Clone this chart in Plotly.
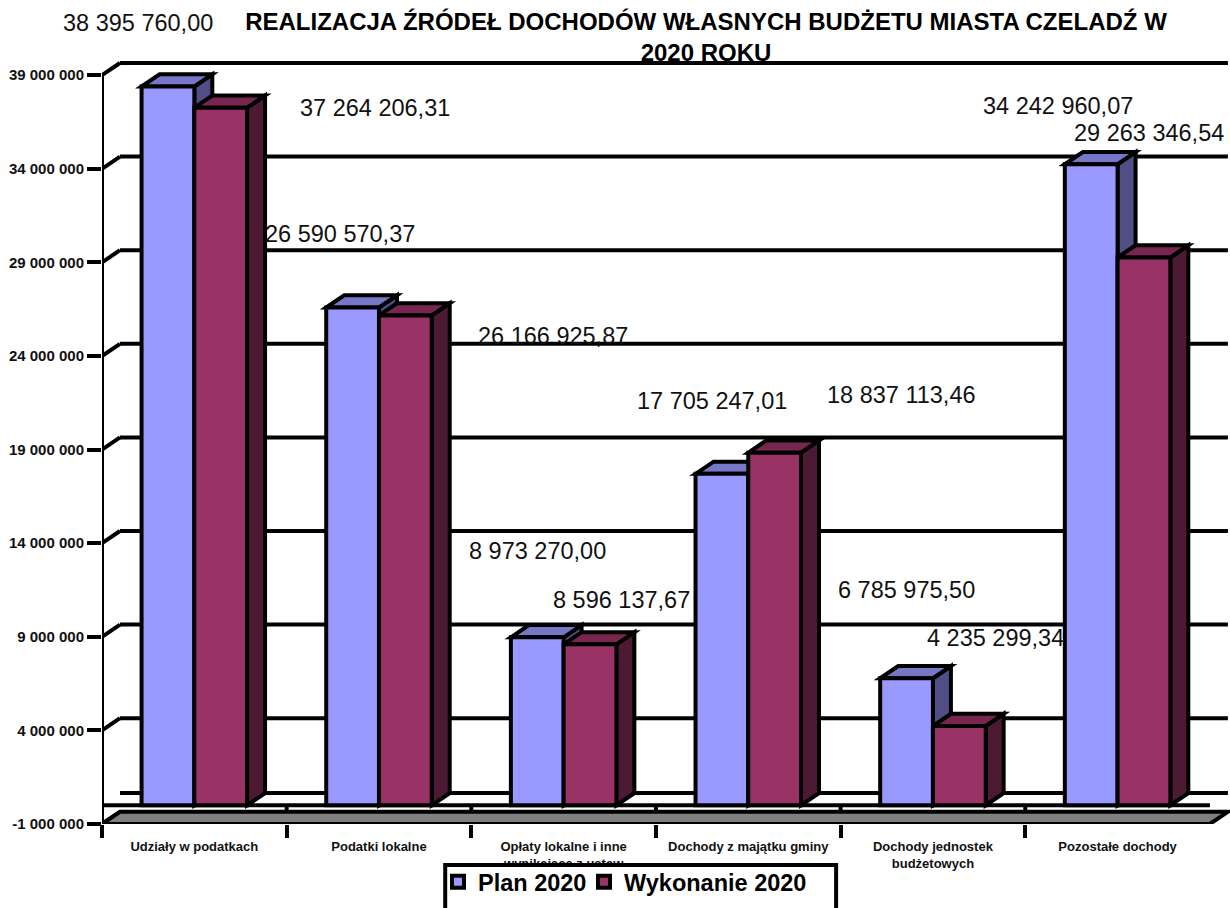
import plotly.graph_objects as go

categories = ["Udziały w podatkach", "Podatki lokalne", "Opłaty lokalne i inne<br>wynikające z ustaw",
              "Dochody z majątku gminy", "Dochody jednostek<br>budżetowych", "Pozostałe dochody"]
plan_2020 = [38395760.00, 26590570.37, 8973270.00, 17705247.01, 6785975.50, 34242960.07]
wykonanie_2020 = [37264206.31, 26166925.87, 8596137.67, 18837113.46, 4235299.34, 29263346.54]
y_ticks = [-1000000, 4000000, 9000000, 14000000, 19000000, 24000000, 29000000, 34000000, 39000000]
title_text = "REALIZACJA ŹRÓDEŁ DOCHODÓW WŁASNYCH BUDŻETU MIASTA CZELADŹ W<br>2020 ROKU"

# hand-placed label offsets (px) relative to each bar's top
plan_label_shift = [(-30, 64), (-13, 74), (0, 86), (-10, 73), (0, 88), (-33, 58)]
wyk_label_shift = [(154, 0), (148, -21), (31, 44), (127, 58), (36, 88), (5, 124)]

W, H = 1230, 908
L, T, B = 101.7, 60, 824
CAT_PX = 184.7
UNIT_PX = 18.72 / 1e6
DX = 18 / CAT_PX
DY = 12.2 / UNIT_PX
BAR = 52.75 / CAT_PX
LW = 4
FONT = "Liberation Sans, Arial, sans-serif"


def fmt(v, dec=2):
    s = f"{abs(v):,.{dec}f}".replace(",", " ").replace(".", ",")
    return ("-" if v < 0 else "") + s


def path(points):
    return "M" + " L".join(f"{x},{y}" for x, y in points) + " Z"


def face(points, fill):
    return dict(type="path", xref="x", yref="y", path=path(points), fillcolor=fill,
                line=dict(color="black", width=LW), layer="between")


def seg(x0, y0, x1, y1):
    return dict(type="line", xref="x", yref="y", x0=x0, y0=y0, x1=x1, y1=y1,
                line=dict(color="black", width=LW), layer="between")


shapes = []
n = len(categories)
ymin, ymax = y_ticks[0], y_ticks[-1]

# back wall lines and their diagonals to the front axis
for t in y_ticks[1:]:
    shapes.append(seg(DX, t + DY, n + DX, t + DY))
for t in y_ticks:
    shapes.append(seg(0, t, DX, t + DY))
shapes.append(seg(DX, DY, n + DX, DY))
# front vertical axis, zero line and stubs
shapes.append(seg(0, ymin, 0, ymax))
shapes.append(seg(0, 0, n, 0))
for i in range(n):
    shapes.append(seg(i, 0, i, -DY))
# floor
shapes.append(face([(0, ymin), (DX, ymin + DY), (n + DX, ymin + DY), (n, ymin)], "#808080"))

# 3-D faces derived from the values
for i in range(n):
    c = i + 0.5
    for x0, v, top, side in ((c - BAR, plan_2020[i], "#7777C7", "#4F4F86"),
                             (c, wykonanie_2020[i], "#77274F", "#4C1A33")):
        x1 = x0 + BAR
        shapes.append(face([(x1, 0), (x1 + DX, DY), (x1 + DX, v + DY), (x1, v)], side))
        shapes.append(face([(x0, v), (x0 + DX, v + DY), (x1 + DX, v + DY), (x1, v)], top))

# white legend box running off the page bottom
plot_w = W - L
plot_h = B - T
shapes.append(dict(type="rect", xref="paper", yref="paper",
                   x0=(445 - L) / plot_w, x1=(836 - L) / plot_w,
                   y0=(B - 930) / plot_h, y1=(B - 865) / plot_h,
                   fillcolor="white", line=dict(color="black", width=LW), layer="above"))

annotations = []
for i in range(n):
    c = i + 0.5
    for x, v, (sx, sy) in ((c - BAR / 2, plan_2020[i], plan_label_shift[i]),
                           (c + BAR / 2, wykonanie_2020[i], wyk_label_shift[i])):
        annotations.append(dict(x=x, y=v, xref="x", yref="y", text=fmt(v), showarrow=False,
                                xshift=sx, yshift=sy, xanchor="center", yanchor="middle",
                                font=dict(family=FONT, size=23.5, color="#111111")))

fig = go.Figure()
bar_line = dict(color="black", width=LW)
fig.add_trace(go.Bar(name="Plan 2020", x=[i + 0.5 for i in range(n)], y=plan_2020,
                     marker=dict(color="#9999FF", line=bar_line), legend="legend"))
fig.add_trace(go.Bar(name="Wykonanie 2020", x=[i + 0.5 for i in range(n)], y=wykonanie_2020,
                     marker=dict(color="#993366", line=bar_line), legend="legend2"))

legend_font = dict(family=FONT, size=23.5, color="black", weight="bold")
legend_common = dict(xref="container", yref="container", xanchor="left", yanchor="top",
                     bgcolor="rgba(0,0,0,0)", borderwidth=0, font=legend_font, itemclick=False)

fig.update_layout(
    width=W, height=H, autosize=False,
    paper_bgcolor="white", plot_bgcolor="white",
    margin=dict(l=L, r=0, t=T, b=H - B, autoexpand=False),
    barmode="group", bargap=1.5 / 3.5, bargroupgap=0,
    showlegend=True,
    legend=dict(x=438 / W, y=1 - 860 / H, **legend_common),
    legend2=dict(x=584 / W, y=1 - 860 / H, **legend_common),
    title=dict(text=title_text, x=706 / W, xanchor="center", y=1 - 30 / H, yanchor="middle",
               font=dict(family=FONT, size=24, color="black", weight="bold")),
    xaxis=dict(range=[0, plot_w / CAT_PX], tickmode="array",
               tickvals=[i + 0.5 for i in range(n)], ticktext=categories,
               ticks="", showgrid=False, zeroline=False, showline=False, tickangle=0,
               ticklabelstandoff=13,
               tickfont=dict(family=FONT, size=13, color="#111111", weight="bold"),
               minor=dict(tickmode="array", tickvals=list(range(n)), ticks="outside",
                          ticklen=13, tickwidth=LW, tickcolor="black", showgrid=False)),
    yaxis=dict(range=[ymin, ymin + plot_h / UNIT_PX], tickmode="array", tickvals=y_ticks,
               ticktext=[fmt(t, 0) for t in y_ticks], ticks="outside", ticklen=14, tickwidth=LW,
               tickcolor="black", showgrid=False, zeroline=False, showline=False,
               tickfont=dict(family=FONT, size=15, color="#111111", weight="bold")),
    shapes=shapes, annotations=annotations,
)

fig.write_html("out.html", config=dict(displayModeBar=False),
               post_script="document.body.style.margin='0';")
